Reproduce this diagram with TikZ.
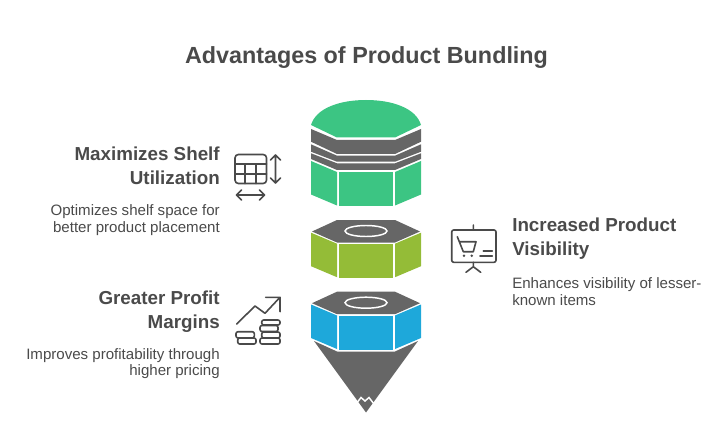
\documentclass[tikz,border=0pt]{standalone}
\usepackage{fontspec}
\setmainfont{Liberation Sans}
\definecolor{txtgray}{HTML}{4A4A4A}
\definecolor{capgray}{HTML}{666666}
\definecolor{bundlegreen}{HTML}{3CC583}
\definecolor{bundleolive}{HTML}{94BC37}
\definecolor{bundleblue}{HTML}{1EA8DA}
\tikzstyle{heading}=[text=txtgray, inner sep=0pt, font=\fontsize{14.1}{18}\selectfont\bfseries]
\tikzstyle{blurb}=[text=txtgray, inner sep=0pt, font=\fontsize{11.3}{12.5}\selectfont]
\tikzstyle{icon}=[draw=txtgray, line width=1.2pt, line join=round, line cap=round]
% three faces of a nut, #1 colour, #2 top edge of the side panels
\newcommand{\nutpanels}[2]{
    \fill[#1] (311,#2) -- (337,#2+11) -- (337,#2+44.5) -- (311,#2+33.5) -- cycle;
    \fill[#1] (339,#2+11.5) rectangle (393,#2+45);
    \fill[#1] (421,#2) -- (395,#2+11) -- (395,#2+44.5) -- (421,#2+33.5) -- cycle;
}
% gray top of a nut with its ring, #1 top of the hexagon
\newcommand{\nuttop}[1]{
    \fill[capgray] (337,#1) -- (395,#1) -- (420,#1+11.5) -- (395,#1+22.5) -- (337,#1+22.5) -- (312,#1+11.5) -- cycle;
    \draw[white, line width=1.1pt] (366,#1+11) ellipse (21 and 5.5);
}
\begin{document}
\begin{tikzpicture}[x=0.75pt, y=-0.75pt]
    \useasboundingbox (0,0) rectangle (709,438);

    \node[text=txtgray, inner sep=0pt, font=\fontsize{17.5}{22}\selectfont\bfseries] (title) at (366.5,58) {Advantages of Product Bundling};

    % top drum
    \fill[bundlegreen] (311,125) .. controls (316,108) and (340,100) .. (366,100) .. controls (392,100) and (416,108) .. (421,125) -- (395,137.5) -- (337,137.5) -- cycle;
    \fill[capgray] (311,129) -- (337,140) -- (395,140) -- (421,129) -- (421,141.7) -- (395,154) -- (337,154) -- (311,141.7) -- cycle;
    \fill[capgray] (311,144.3) -- (337,155.7) -- (395,155.7) -- (421,144.3) -- (421,151.7) -- (395,161.7) -- (337,161.7) -- (311,151.7) -- cycle;
    \fill[capgray] (311,153.3) -- (337,163.3) -- (395,163.3) -- (421,153.3) -- (421,159) -- (395,170) -- (337,170) -- (311,159) -- cycle;
    \nutpanels{bundlegreen}{161}

    % middle nut
    \nuttop{220}
    \nutpanels{bundleolive}{232.7}

    % lower nut and cone
    \nuttop{291.7}
    \nutpanels{bundleblue}{304.5}
    \fill[capgray] (314,341) -- (337,351.5) -- (395,351.5) -- (418,341) -- (366,412.5) -- cycle;
    \draw[white, line width=1.1pt, line join=miter] (356,404) -- (361,397.5) -- (365,401) -- (369,397.5) -- (374,404);

    % labels
    \node[heading, anchor=east, align=right] (shelfhead) at (220,165.5) {Maximizes Shelf\\Utilization};
    \node[blurb, anchor=east, align=right] (shelftext) at (220,220) {Optimizes shelf space for\\better product placement};
    \node[heading, anchor=east, align=right] (profithead) at (220,312) {Greater Profit\\Margins};
    \node[blurb, anchor=east, align=right] (profittext) at (220,363.5) {Improves profitability through\\higher pricing};
    \node[heading, anchor=west, align=left] (vishead) at (512,239) {Increased Product\\Visibility};
    \node[blurb, anchor=west, align=left] (vistext) at (512,291.5) {Enhances visibility of lesser-\\known items};

    % shelf icon
    \draw[icon, rounded corners=2.5pt] (235,154.5) rectangle (266.5,183.5);
    \draw[icon] (235,164) -- (266.5,164) (235,174) -- (266.5,174) (245,164) -- (245,183.5) (255.7,164) -- (255.7,183.5);
    \draw[icon] (275.5,155) -- (275.5,183) (270.5,160) -- (275.5,155) -- (280.5,160) (270.5,178) -- (275.5,183) -- (280.5,178);
    \draw[icon] (236.5,195) -- (264.5,195) (241.5,190) -- (236.5,195) -- (241.5,200) (259.5,190) -- (264.5,195) -- (259.5,200);

    % profit icon
    \draw[icon] (236.7,324) -- (255,306) -- (265,313.3) -- (280,297.3) (265.7,297.3) -- (280,297.3) -- (280,311.7);
    \foreach \xa/\ya/\xb/\yb in {261.7/320/280/325, 260/325.5/278/331.5, 261.7/332/280/338, 260/338/280/344, 236/331.7/254.3/338, 237.7/338/256/344}
        \draw[icon, rounded corners=1.5pt] (\xa,\ya) rectangle (\xb,\yb);

    % visibility icon
    \draw[icon, rounded corners=1.5pt] (451.7,230) rectangle (496,262.3);
    \draw[icon] (473.3,225) -- (473.3,230) (473.3,262.3) -- (473.3,266.7) (466,272.3) -- (473.3,266.7) -- (480.7,272.3);
    \draw[icon] (457.3,236.7) -- (463.3,251.7) -- (473.3,251.7) -- (476,241.7) -- (459.5,241.7);
    \fill[txtgray] (464,255.7) circle (1.4) (471.7,255.7) circle (1.4);
    \draw[icon] (483.3,250.7) -- (492.3,250.7) (480,255.7) -- (492.3,255.7);
\end{tikzpicture}
\end{document}
